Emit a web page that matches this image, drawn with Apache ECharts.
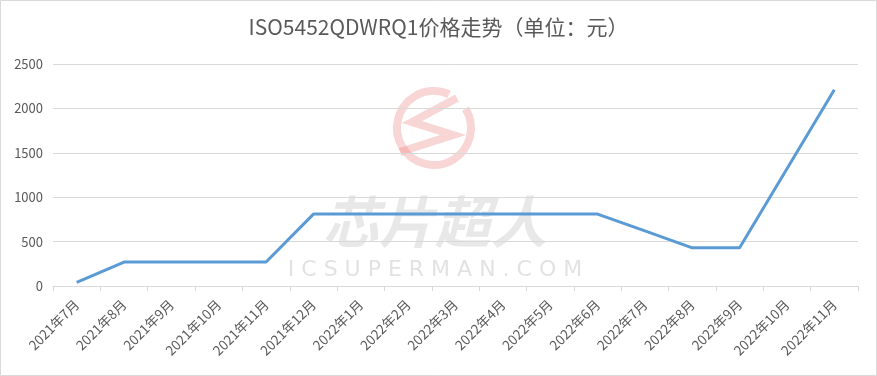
<!DOCTYPE html>
<html><head><meta charset="utf-8">
<script src="https://cdn.jsdelivr.net/npm/echarts@6/dist/echarts.min.js"></script>
<style>html,body{margin:0;padding:0;background:#fff}#c{width:877px;height:376px}</style>
</head><body><div id="c"></div>
<script>
var titleText = 'ISO5452QDWRQ1价格走势（单位：元）';
var categories = ['2021年7月','2021年8月','2021年9月','2021年10月','2021年11月','2021年12月','2022年1月','2022年2月','2022年3月','2022年4月','2022年5月','2022年6月','2022年7月','2022年8月','2022年9月','2022年10月','2022年11月'];
var prices = [40,270,270,270,270,810,810,810,810,810,810,810,620,430,430,1320,2210];
var yTicks = {min:0, max:2500, interval:500};

var chart = echarts.init(document.getElementById('c'), null, {renderer:'canvas'});
var font = '"Noto Sans CJK SC","Noto Sans",sans-serif';
var pink = 'rgba(235,120,120,0.3)';
chart.setOption({
  animation:false,
  backgroundColor:'#fff',
  title:{text:titleText,left:'center',top:12,textStyle:{fontFamily:font,fontSize:21,fontWeight:'normal',color:'#595959'}},
  grid:{left:53,right:19,top:64,bottom:90,containLabel:false},
  xAxis:{type:'category',data:categories,boundaryGap:true,
    axisLine:{lineStyle:{color:'#d9d9d9',width:1}},
    axisTick:{show:true,alignWithLabel:false,length:5,lineStyle:{color:'#d9d9d9'}},
    axisLabel:{interval:0,rotate:45,fontFamily:font,fontSize:13.5,color:'#595959',margin:16}},
  yAxis:{type:'value',min:yTicks.min,max:yTicks.max,interval:yTicks.interval,
    axisLine:{show:false},axisTick:{show:false},
    splitLine:{lineStyle:{color:'#d9d9d9',width:1}},
    axisLabel:{fontFamily:font,fontSize:13,color:'#595959',margin:10,formatter:function(v){return String(v);}}},
  graphic:[
    {type:'rect',shape:{x:0.5,y:0.5,width:876,height:375},style:{fill:'none',stroke:'#d9d9d9',lineWidth:1},z:-1},
    {type:'arc',shape:{cx:434,cy:128,r:37,startAngle:-0.55,endAngle:-1.15,clockwise:true},style:{fill:'none',stroke:pink,lineWidth:8},z:0},
    {type:'polyline',shape:{points:[[457,98],[412,122],[453,135],[400,152]]},style:{fill:'none',stroke:pink,lineWidth:8},z:0},
    {type:'text',style:{x:435,y:222,text:'芯片超人',align:'center',verticalAlign:'middle',font:'italic bold 56px "Noto Sans CJK SC"',fill:'rgba(190,190,190,0.35)'},z:0},
    {type:'text',style:{x:435,y:270,text:'I C S U P E R M A N . C O M',align:'center',verticalAlign:'middle',font:'22px "DejaVu Sans"',fill:'rgba(190,190,190,0.45)'},z:0}
  ],
  series:[{type:'line',data:prices,symbol:'none',lineStyle:{color:'#5b9bd5',width:3},z:5}]
});
</script></body></html>
